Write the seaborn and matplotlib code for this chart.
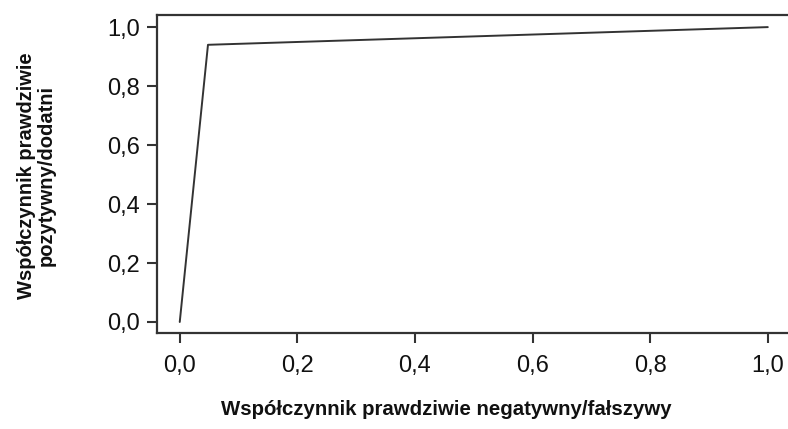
import matplotlib
matplotlib.use("Agg")
import matplotlib.pyplot as plt
import seaborn as sns
import pandas as pd

# ROC curve points
fpr = [0.0, 0.048, 1.0]
tpr = [0.0, 0.94, 1.0]
ticks = [0.0, 0.2, 0.4, 0.6, 0.8, 1.0]
tick_labels = ["0,0", "0,2", "0,4", "0,6", "0,8", "1,0"]

xlabel = "Współczynnik prawdziwie negatywny/fałszywy"
ylabel = "Współczynnik prawdziwie\npozytywny/dodatni"

sns.set_theme(style="ticks")
plt.rcParams["font.family"] = ["Liberation Sans", "DejaVu Sans"]

df = pd.DataFrame({"fpr": fpr, "tpr": tpr})

fig = plt.figure(figsize=(7.88, 4.29), dpi=100)
ax = fig.add_axes([0.199, 0.224, 0.85, 0.741])

sns.lineplot(data=df, x="fpr", y="tpr", ax=ax, color="#333333",
             linewidth=1.4, sort=False, estimator=None)

ax.set_xlim(-0.039, 1.1)
ax.set_ylim(-0.037, 1.041)
ax.set_xticks(ticks)
ax.set_xticklabels(tick_labels)
ax.set_yticks(ticks)
ax.set_yticklabels(tick_labels)
ax.tick_params(axis="both", direction="out", length=7, width=1.5,
               color="#333333", labelsize=17, labelcolor="#111111", pad=5)
ax.tick_params(axis="x", pad=9)

for side in ["left", "bottom", "top"]:
    ax.spines[side].set_color("#333333")
    ax.spines[side].set_linewidth(1.6)
ax.spines["right"].set_visible(False)

ax.set_xlabel("")
ax.set_ylabel("")
fig.text(0.567, 0.045, xlabel, ha="center", va="center",
         fontsize=14.7, fontweight="bold", color="#111111")
fig.text(0.046, 0.59, ylabel, ha="center", va="center", rotation=90,
         fontsize=14.5, fontweight="bold", color="#111111",
         multialignment="center", linespacing=1.05)

fig.savefig("out.png", dpi=100)
